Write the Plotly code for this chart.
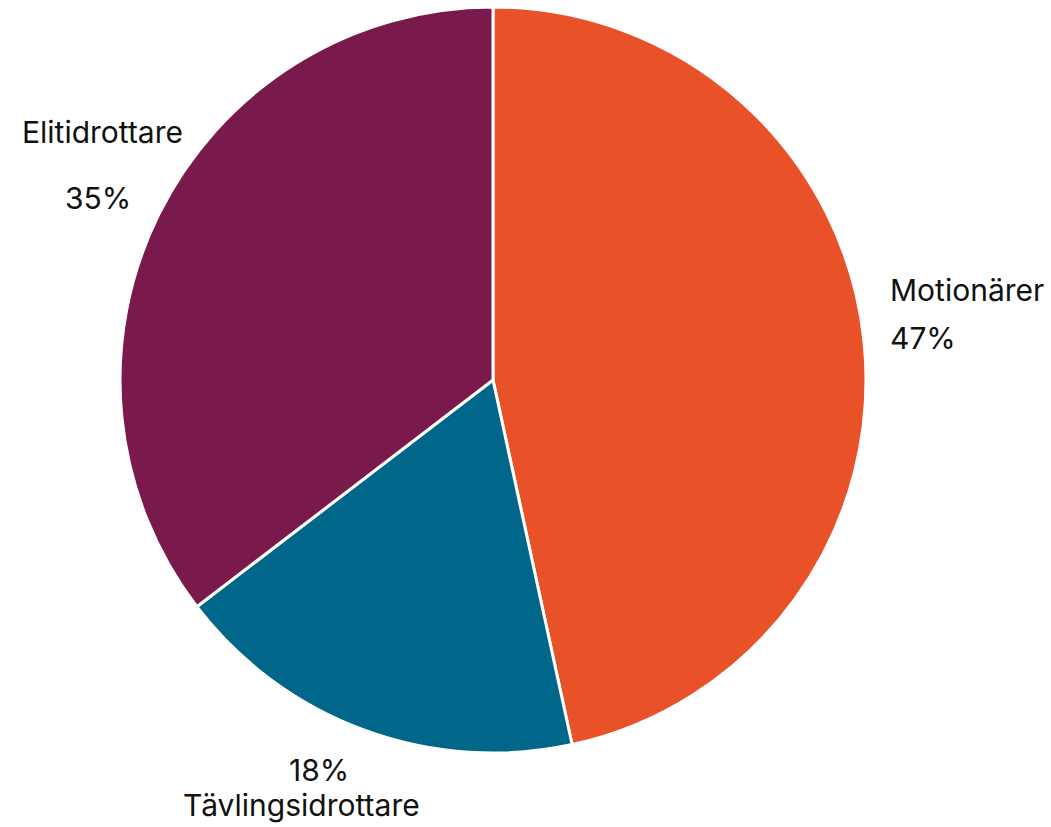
import plotly.graph_objects as go

labels = ["Motionärer", "Tävlingsidrottare", "Elitidrottare"]
values = [46.6, 18.0, 35.4]
colors = ["#E95129", "#00668A", "#7A1A4C"]

total = sum(values)
pct = [f"{round(v / total * 100)}%" for v in values]

W, H = 1051, 827
cx, cy, r = 493, 380, 373

fig = go.Figure(go.Pie(
    labels=labels,
    values=values,
    sort=False,
    direction="clockwise",
    rotation=0,
    marker=dict(colors=colors, line=dict(color="white", width=3)),
    textinfo="none",
    hoverinfo="label+percent",
    showlegend=False,
    domain=dict(x=[(cx - r) / W, (cx + r) / W], y=[1 - (cy + r) / H, 1 - (cy - r) / H]),
))

font = dict(family="Inter, Noto Sans, sans-serif", size=30, color="#111111")

# label layout: (name x, name y, pct x, pct y, xanchor) in pixels
label_pos = [
    (888, 290, 888, 338, "left"),
    (301, 805, 319, 770, "center"),
    (102, 132, 98, 198, "center"),
]

annotations = []
for name, p, (nx, ny, px, py, xa) in zip(labels, pct, label_pos):
    annotations.append(dict(text=name, x=nx / W, y=1 - ny / H, xref="paper", yref="paper",
                            xanchor=xa, yanchor="middle", showarrow=False, font=font))
    annotations.append(dict(text=p, x=px / W, y=1 - py / H, xref="paper", yref="paper",
                            xanchor=xa, yanchor="middle", showarrow=False, font=font))

fig.update_layout(
    width=W, height=H,
    margin=dict(l=0, r=0, t=0, b=0),
    paper_bgcolor="white", plot_bgcolor="white",
    annotations=annotations,
)

fig.write_html("out.html", config={"displayModeBar": False},
               post_script="document.body.style.margin='0';document.body.style.overflow='hidden';")
